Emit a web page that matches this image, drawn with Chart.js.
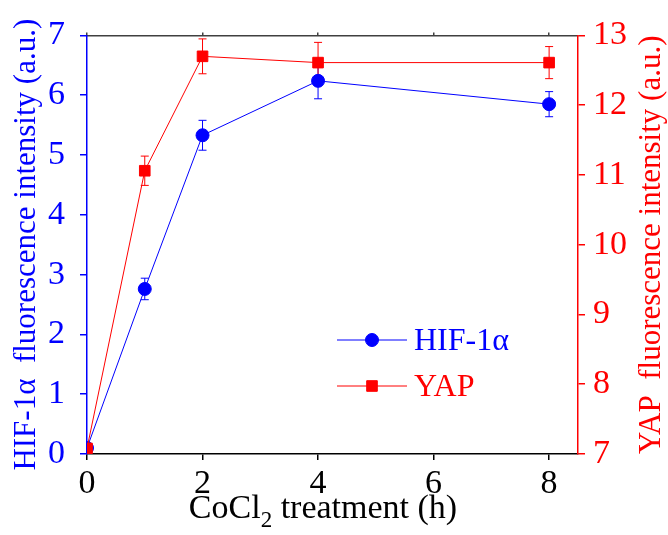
<!DOCTYPE html>
<html><head><meta charset="utf-8">
<script src="https://cdn.jsdelivr.net/npm/chart.js@4.4.0/dist/chart.umd.min.js"></script>
<style>html,body{margin:0;padding:0;background:#fff}#wrap{width:668px;height:535px;position:relative}</style>
</head><body><div id="wrap"><canvas id="c"></canvas></div>
<script>
const hours = [0, 1, 2, 4, 8];
const hifValues = [0.1, 2.76, 5.33, 6.24, 5.85];
const hifErrors = [0, 0.18, 0.25, 0.30, 0.21];
const yapValues = [7.08, 11.06, 12.70, 12.61, 12.61];
const yapErrors = [0, 0.21, 0.25, 0.29, 0.23];
const xTicks = [0, 2, 4, 6, 8];
const leftTicks = [0, 1, 2, 3, 4, 5, 6, 7];
const rightTicks = [7, 8, 9, 10, 11, 12, 13];
const hifLabel = 'HIF-1\u03b1';
const yapLabel = 'YAP';
const leftTitle = 'HIF-1\u03b1  fluorescence intensity (a.u.)';
const rightTitle = 'YAP  fluorescence intensity (a.u.)';
const xTitleParts = ['CoCl', '2', ' treatment (h)'];

const FONT = 'Liberation Serif';
const BLUE = '#0000ff', RED = '#ff0000';

const errorBars = {
  id: 'errorBars',
  beforeDatasetsDraw(chart) {
    const ctx = chart.ctx, a = chart.chartArea;
    ctx.save();
    ctx.beginPath(); ctx.rect(a.left, a.top, a.right - a.left, a.bottom - a.top); ctx.clip();
    chart.data.datasets.forEach(ds => {
      const xs = chart.scales.x, ys = chart.scales[ds.yAxisID];
      ctx.strokeStyle = ds.borderColor; ctx.lineWidth = 1;
      ds.data.forEach((p, i) => {
        const e = ds.errors[i]; if (!e) return;
        const px = xs.getPixelForValue(p.x);
        const t = ys.getPixelForValue(p.y + e), b = ys.getPixelForValue(p.y - e);
        ctx.beginPath();
        ctx.moveTo(px, t); ctx.lineTo(px, b);
        ctx.moveTo(px - 4, t); ctx.lineTo(px + 4, t);
        ctx.moveTo(px - 4, b); ctx.lineTo(px + 4, b);
        ctx.stroke();
      });
    });
    ctx.restore();
  }
};

const titlesAndLegend = {
  id: 'titlesAndLegend',
  afterDraw(chart) {
    const ctx = chart.ctx, a = chart.chartArea;
    const cy = (a.top + a.bottom) / 2;
    ctx.save();
    ctx.font = '31px "' + FONT + '"';
    ctx.fillStyle = BLUE; ctx.textAlign = 'center'; ctx.textBaseline = 'middle';
    ctx.save(); ctx.translate(27, cy); ctx.rotate(-Math.PI / 2); ctx.fillText(leftTitle, 0, 0); ctx.restore();
    ctx.fillStyle = RED;
    ctx.save(); ctx.translate(652, cy); ctx.rotate(-Math.PI / 2); ctx.fillText(rightTitle, 0, 0); ctx.restore();
    const big = '34px "' + FONT + '"', small = '23px "' + FONT + '"';
    ctx.fillStyle = '#000'; ctx.textAlign = 'left'; ctx.textBaseline = 'alphabetic';
    ctx.font = big; const w1 = ctx.measureText(xTitleParts[0]).width, w3 = ctx.measureText(xTitleParts[2]).width;
    ctx.font = small; const w2 = ctx.measureText(xTitleParts[1]).width;
    let x0 = 323 - (w1 + w2 + w3) / 2; const base = 518;
    ctx.font = big; ctx.fillText(xTitleParts[0], x0, base);
    ctx.font = small; ctx.fillText(xTitleParts[1], x0 + w1, base + 9);
    ctx.font = big; ctx.fillText(xTitleParts[2], x0 + w1 + w2, base);
    const rows = [
      {label: hifLabel, color: BLUE, style: 'circle', r: 6.5, y: 340},
      {label: yapLabel, color: RED, style: 'rect', r: 7.5, y: 386}
    ];
    ctx.font = '32px "' + FONT + '"'; ctx.textBaseline = 'middle';
    rows.forEach(r => {
      ctx.strokeStyle = r.color; ctx.fillStyle = r.color; ctx.lineWidth = 1;
      ctx.beginPath(); ctx.moveTo(337, r.y); ctx.lineTo(407, r.y); ctx.stroke();
      Chart.helpers.drawPoint(ctx, {pointStyle: r.style, radius: r.r, borderWidth: 1}, 372, r.y);
      ctx.fillStyle = r.color; ctx.fillText(r.label, 414, r.y + 2);
    });
    ctx.restore();
  }
};

const tickFont = {family: FONT, size: 34};
const noOverflow = {left: 0, top: 0, right: 0, bottom: 0};

new Chart(document.getElementById('c'), {
  type: 'line',
  data: {
    datasets: [
      {label: hifLabel, yAxisID: 'y', data: hours.map((h, i) => ({x: h, y: hifValues[i]})), errors: hifErrors,
       borderColor: BLUE, backgroundColor: BLUE, borderWidth: 1, pointStyle: 'circle', pointRadius: 6.5,
       pointHoverRadius: 6.5, tension: 0, order: 1, clip: noOverflow},
      {label: yapLabel, yAxisID: 'y2', data: hours.map((h, i) => ({x: h, y: yapValues[i]})), errors: yapErrors,
       borderColor: RED, backgroundColor: RED, borderWidth: 1, pointStyle: 'rect', pointRadius: 7.5,
       pointHoverRadius: 7.5, tension: 0, order: 0, clip: noOverflow}
    ]
  },
  options: {
    responsive: true, maintainAspectRatio: false, animation: false, devicePixelRatio: 1,
    layout: {padding: 0},
    plugins: {legend: {display: false}, tooltip: {enabled: false}},
    events: [],
    scales: {
      x: {type: 'linear', position: 'bottom', min: 0, max: 8.5,
          afterBuildTicks: s => { s.ticks = xTicks.map(v => ({value: v})); },
          afterFit: s => { s.height = 81; },
          grid: {display: true, drawOnChartArea: false, drawTicks: true, tickLength: 6, color: '#000', lineWidth: 1.5},
          border: {display: true, color: '#000', width: 1.5},
          ticks: {color: '#000', font: tickFont, padding: 4, maxRotation: 0}},
      x2: {type: 'linear', position: 'top', min: 0, max: 8.5,
          afterBuildTicks: s => { s.ticks = xTicks.map(v => ({value: v})); },
          afterFit: s => { s.height = 28; },
          grid: {display: true, drawOnChartArea: false, drawTicks: true, tickLength: 3, color: '#404040', lineWidth: 1.5},
          border: {display: true, color: '#404040', width: 1.5},
          ticks: {display: false}},
      y: {type: 'linear', position: 'left', min: 0, max: 7,
          afterBuildTicks: s => { s.ticks = leftTicks.map(v => ({value: v})); },
          afterFit: s => { s.width = 87; },
          grid: {display: true, drawOnChartArea: false, drawTicks: true, tickLength: 7, color: BLUE, lineWidth: 1.5},
          border: {display: true, color: BLUE, width: 1.5},
          ticks: {color: BLUE, font: tickFont, padding: 15}},
      y2: {type: 'linear', position: 'right', min: 7, max: 13,
          afterBuildTicks: s => { s.ticks = rightTicks.map(v => ({value: v})); },
          afterFit: s => { s.width = 90; },
          grid: {display: true, drawOnChartArea: false, drawTicks: true, tickLength: 7, color: RED, lineWidth: 1.5},
          border: {display: true, color: RED, width: 1.5},
          ticks: {color: RED, font: tickFont, padding: 8}}
    }
  },
  plugins: [errorBars, titlesAndLegend]
});
</script></body></html>
